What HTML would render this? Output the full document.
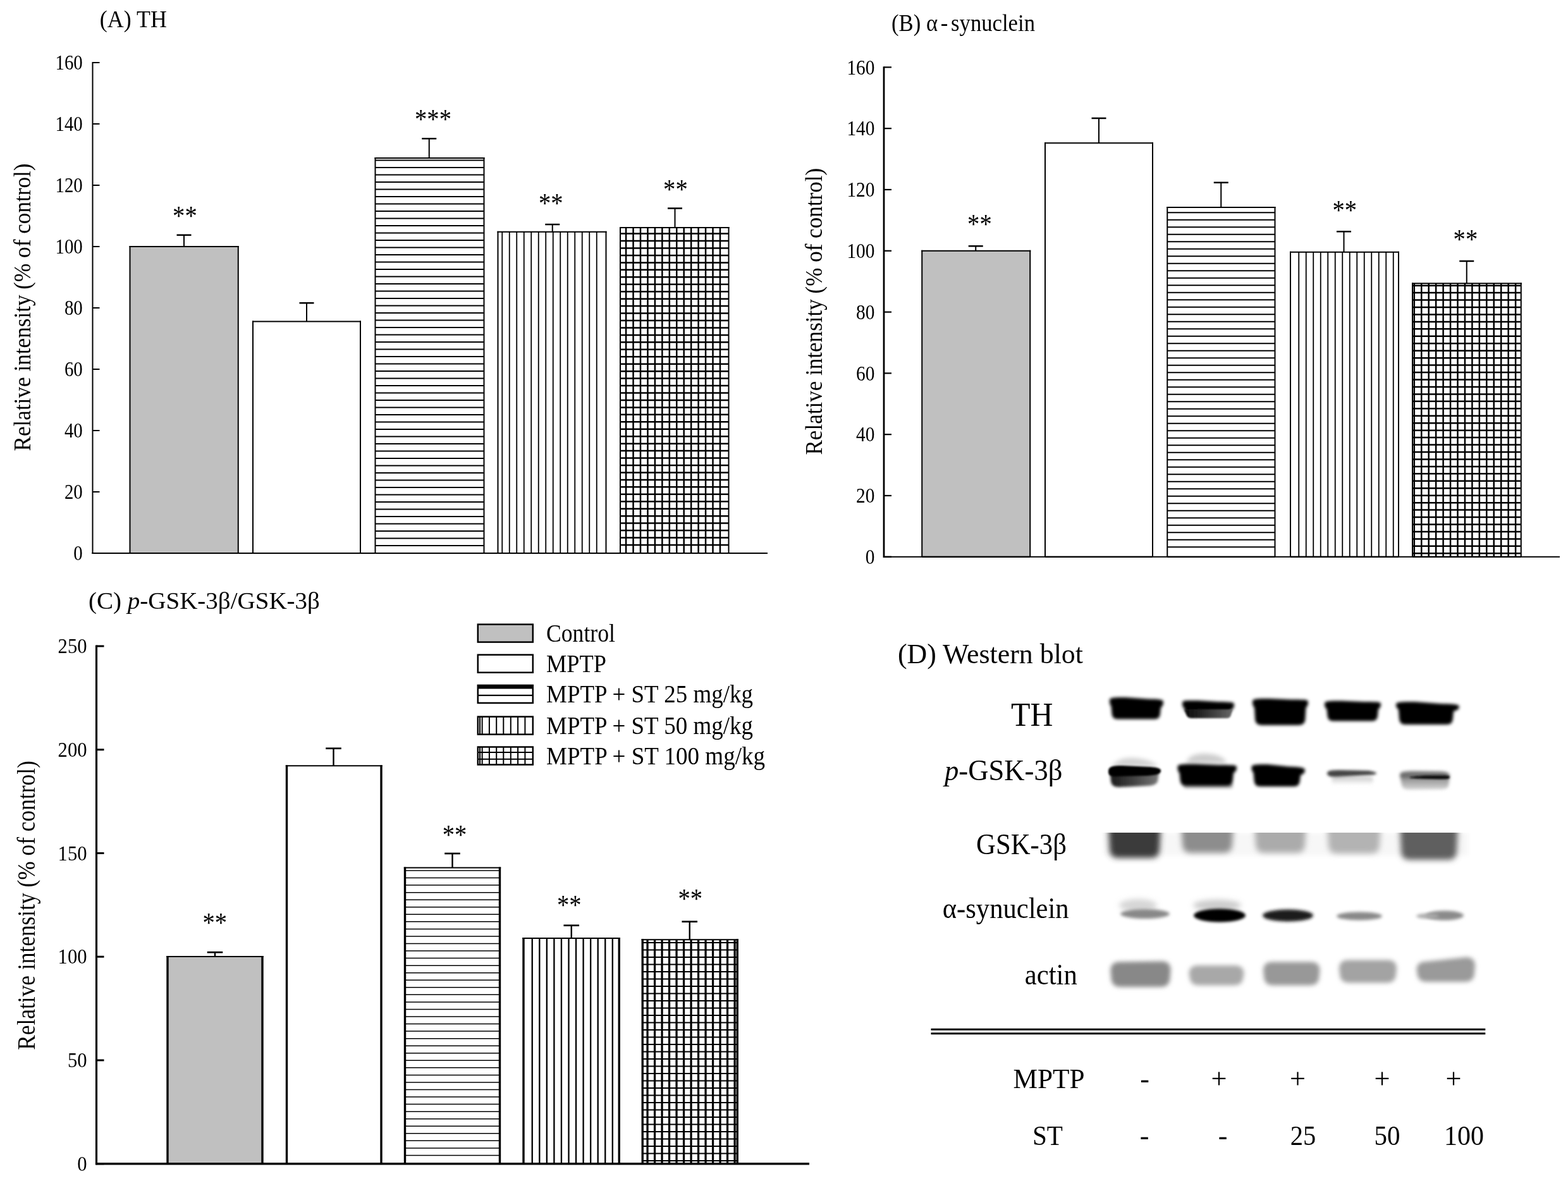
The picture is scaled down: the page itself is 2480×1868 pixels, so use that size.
<!DOCTYPE html>
<html><head><meta charset="utf-8"><title>Figure</title>
<style>html,body{margin:0;padding:0;background:#fff;}svg{display:block;}text{font-family:'Liberation Serif', 'Times New Roman', serif;fill:#000;}</style>
</head><body>
<svg width="2480" height="1868" viewBox="0 0 2480 1868">
<rect width="2480" height="1868" fill="#fff"/>
<defs><filter id="b15" x="-20%" y="-50%" width="140%" height="200%"><feGaussianBlur stdDeviation="1.5"/></filter><filter id="b16" x="-20%" y="-50%" width="140%" height="200%"><feGaussianBlur stdDeviation="1.6"/></filter><filter id="b18" x="-20%" y="-50%" width="140%" height="200%"><feGaussianBlur stdDeviation="1.8"/></filter><filter id="b20" x="-20%" y="-50%" width="140%" height="200%"><feGaussianBlur stdDeviation="2.0"/></filter><filter id="b22" x="-20%" y="-50%" width="140%" height="200%"><feGaussianBlur stdDeviation="2.2"/></filter><filter id="b25" x="-20%" y="-50%" width="140%" height="200%"><feGaussianBlur stdDeviation="2.5"/></filter><filter id="b28" x="-20%" y="-50%" width="140%" height="200%"><feGaussianBlur stdDeviation="2.8"/></filter><filter id="b30" x="-20%" y="-50%" width="140%" height="200%"><feGaussianBlur stdDeviation="3.0"/></filter><filter id="b35" x="-20%" y="-50%" width="140%" height="200%"><feGaussianBlur stdDeviation="3.5"/></filter><filter id="b45" x="-20%" y="-50%" width="140%" height="200%"><feGaussianBlur stdDeviation="4.5"/></filter><filter id="b50" x="-20%" y="-50%" width="140%" height="200%"><feGaussianBlur stdDeviation="5.0"/></filter></defs>
<text x="157.80" y="42.50" font-size="37" textLength="106.00" lengthAdjust="spacingAndGlyphs" >(A) TH</text>
<line x1="146.50" y1="98.00" x2="146.50" y2="876.00" stroke="#000" stroke-width="2"/>
<line x1="146.50" y1="875.00" x2="157.50" y2="875.00" stroke="#000" stroke-width="2"/>
<text x="130.70" y="886.20" font-size="33" text-anchor="end" textLength="14.40" lengthAdjust="spacingAndGlyphs" >0</text>
<line x1="146.50" y1="778.00" x2="157.50" y2="778.00" stroke="#000" stroke-width="2"/>
<text x="130.70" y="789.20" font-size="33" text-anchor="end" textLength="28.80" lengthAdjust="spacingAndGlyphs" >20</text>
<line x1="146.50" y1="681.00" x2="157.50" y2="681.00" stroke="#000" stroke-width="2"/>
<text x="130.70" y="692.20" font-size="33" text-anchor="end" textLength="28.80" lengthAdjust="spacingAndGlyphs" >40</text>
<line x1="146.50" y1="584.00" x2="157.50" y2="584.00" stroke="#000" stroke-width="2"/>
<text x="130.70" y="595.20" font-size="33" text-anchor="end" textLength="28.80" lengthAdjust="spacingAndGlyphs" >60</text>
<line x1="146.50" y1="487.00" x2="157.50" y2="487.00" stroke="#000" stroke-width="2"/>
<text x="130.70" y="498.20" font-size="33" text-anchor="end" textLength="28.80" lengthAdjust="spacingAndGlyphs" >80</text>
<line x1="146.50" y1="390.00" x2="157.50" y2="390.00" stroke="#000" stroke-width="2"/>
<text x="130.70" y="401.20" font-size="33" text-anchor="end" textLength="43.20" lengthAdjust="spacingAndGlyphs" >100</text>
<line x1="146.50" y1="293.00" x2="157.50" y2="293.00" stroke="#000" stroke-width="2"/>
<text x="130.70" y="304.20" font-size="33" text-anchor="end" textLength="43.20" lengthAdjust="spacingAndGlyphs" >120</text>
<line x1="146.50" y1="196.00" x2="157.50" y2="196.00" stroke="#000" stroke-width="2"/>
<text x="130.70" y="207.20" font-size="33" text-anchor="end" textLength="43.20" lengthAdjust="spacingAndGlyphs" >140</text>
<line x1="146.50" y1="99.00" x2="157.50" y2="99.00" stroke="#000" stroke-width="2"/>
<text x="130.70" y="110.20" font-size="33" text-anchor="end" textLength="43.20" lengthAdjust="spacingAndGlyphs" >160</text>
<line x1="145.50" y1="875.00" x2="1214.00" y2="875.00" stroke="#000" stroke-width="2"/>
<text x="47.50" y="486.00" font-size="38" text-anchor="middle" textLength="455.00" lengthAdjust="spacingAndGlyphs" transform="rotate(-90 47.50 486.00)" >Relative intensity (% of control)</text>
<line x1="291.00" y1="390.00" x2="291.00" y2="371.75" stroke="#000" stroke-width="2.0"/>
<line x1="279.50" y1="371.75" x2="302.50" y2="371.75" stroke="#000" stroke-width="2.5"/>
<rect x="205.50" y="390.00" width="171.25" height="485.00" fill="#c0c0c0"/>
<line x1="204.50" y1="390.00" x2="377.75" y2="390.00" stroke="#000" stroke-width="2.0"/>
<line x1="205.50" y1="389.00" x2="205.50" y2="875.00" stroke="#000" stroke-width="2.0"/>
<line x1="376.75" y1="389.00" x2="376.75" y2="875.00" stroke="#000" stroke-width="2.0"/>
<line x1="205.50" y1="875.00" x2="376.75" y2="875.00" stroke="#000" stroke-width="2.0"/>
<line x1="485.00" y1="508.50" x2="485.00" y2="479.25" stroke="#000" stroke-width="2.0"/>
<line x1="473.50" y1="479.25" x2="496.50" y2="479.25" stroke="#000" stroke-width="2.5"/>
<rect x="400.00" y="508.50" width="170.00" height="366.50" fill="#fff"/>
<line x1="399.00" y1="508.50" x2="571.00" y2="508.50" stroke="#000" stroke-width="2.0"/>
<line x1="400.00" y1="507.50" x2="400.00" y2="875.00" stroke="#000" stroke-width="2.0"/>
<line x1="570.00" y1="507.50" x2="570.00" y2="875.00" stroke="#000" stroke-width="2.0"/>
<line x1="400.00" y1="875.00" x2="570.00" y2="875.00" stroke="#000" stroke-width="2.0"/>
<line x1="678.75" y1="250.00" x2="678.75" y2="219.25" stroke="#000" stroke-width="2.0"/>
<line x1="667.25" y1="219.25" x2="690.25" y2="219.25" stroke="#000" stroke-width="2.5"/>
<rect x="593.50" y="250.00" width="172.00" height="625.00" fill="#fff"/>
<line x1="593.50" y1="253.50" x2="765.50" y2="253.50" stroke="#000" stroke-width="1.8"/>
<line x1="593.50" y1="265.00" x2="765.50" y2="265.00" stroke="#000" stroke-width="1.8"/>
<line x1="593.50" y1="276.50" x2="765.50" y2="276.50" stroke="#000" stroke-width="1.8"/>
<line x1="593.50" y1="288.00" x2="765.50" y2="288.00" stroke="#000" stroke-width="1.8"/>
<line x1="593.50" y1="299.50" x2="765.50" y2="299.50" stroke="#000" stroke-width="1.8"/>
<line x1="593.50" y1="311.00" x2="765.50" y2="311.00" stroke="#000" stroke-width="1.8"/>
<line x1="593.50" y1="322.50" x2="765.50" y2="322.50" stroke="#000" stroke-width="1.8"/>
<line x1="593.50" y1="334.00" x2="765.50" y2="334.00" stroke="#000" stroke-width="1.8"/>
<line x1="593.50" y1="345.50" x2="765.50" y2="345.50" stroke="#000" stroke-width="1.8"/>
<line x1="593.50" y1="357.00" x2="765.50" y2="357.00" stroke="#000" stroke-width="1.8"/>
<line x1="593.50" y1="368.50" x2="765.50" y2="368.50" stroke="#000" stroke-width="1.8"/>
<line x1="593.50" y1="380.00" x2="765.50" y2="380.00" stroke="#000" stroke-width="1.8"/>
<line x1="593.50" y1="391.50" x2="765.50" y2="391.50" stroke="#000" stroke-width="1.8"/>
<line x1="593.50" y1="403.00" x2="765.50" y2="403.00" stroke="#000" stroke-width="1.8"/>
<line x1="593.50" y1="414.50" x2="765.50" y2="414.50" stroke="#000" stroke-width="1.8"/>
<line x1="593.50" y1="426.00" x2="765.50" y2="426.00" stroke="#000" stroke-width="1.8"/>
<line x1="593.50" y1="437.50" x2="765.50" y2="437.50" stroke="#000" stroke-width="1.8"/>
<line x1="593.50" y1="449.00" x2="765.50" y2="449.00" stroke="#000" stroke-width="1.8"/>
<line x1="593.50" y1="460.50" x2="765.50" y2="460.50" stroke="#000" stroke-width="1.8"/>
<line x1="593.50" y1="472.00" x2="765.50" y2="472.00" stroke="#000" stroke-width="1.8"/>
<line x1="593.50" y1="483.50" x2="765.50" y2="483.50" stroke="#000" stroke-width="1.8"/>
<line x1="593.50" y1="495.00" x2="765.50" y2="495.00" stroke="#000" stroke-width="1.8"/>
<line x1="593.50" y1="506.50" x2="765.50" y2="506.50" stroke="#000" stroke-width="1.8"/>
<line x1="593.50" y1="518.00" x2="765.50" y2="518.00" stroke="#000" stroke-width="1.8"/>
<line x1="593.50" y1="529.50" x2="765.50" y2="529.50" stroke="#000" stroke-width="1.8"/>
<line x1="593.50" y1="541.00" x2="765.50" y2="541.00" stroke="#000" stroke-width="1.8"/>
<line x1="593.50" y1="552.50" x2="765.50" y2="552.50" stroke="#000" stroke-width="1.8"/>
<line x1="593.50" y1="564.00" x2="765.50" y2="564.00" stroke="#000" stroke-width="1.8"/>
<line x1="593.50" y1="575.50" x2="765.50" y2="575.50" stroke="#000" stroke-width="1.8"/>
<line x1="593.50" y1="587.00" x2="765.50" y2="587.00" stroke="#000" stroke-width="1.8"/>
<line x1="593.50" y1="598.50" x2="765.50" y2="598.50" stroke="#000" stroke-width="1.8"/>
<line x1="593.50" y1="610.00" x2="765.50" y2="610.00" stroke="#000" stroke-width="1.8"/>
<line x1="593.50" y1="621.50" x2="765.50" y2="621.50" stroke="#000" stroke-width="1.8"/>
<line x1="593.50" y1="633.00" x2="765.50" y2="633.00" stroke="#000" stroke-width="1.8"/>
<line x1="593.50" y1="644.50" x2="765.50" y2="644.50" stroke="#000" stroke-width="1.8"/>
<line x1="593.50" y1="656.00" x2="765.50" y2="656.00" stroke="#000" stroke-width="1.8"/>
<line x1="593.50" y1="667.50" x2="765.50" y2="667.50" stroke="#000" stroke-width="1.8"/>
<line x1="593.50" y1="679.00" x2="765.50" y2="679.00" stroke="#000" stroke-width="1.8"/>
<line x1="593.50" y1="690.50" x2="765.50" y2="690.50" stroke="#000" stroke-width="1.8"/>
<line x1="593.50" y1="702.00" x2="765.50" y2="702.00" stroke="#000" stroke-width="1.8"/>
<line x1="593.50" y1="713.50" x2="765.50" y2="713.50" stroke="#000" stroke-width="1.8"/>
<line x1="593.50" y1="725.00" x2="765.50" y2="725.00" stroke="#000" stroke-width="1.8"/>
<line x1="593.50" y1="736.50" x2="765.50" y2="736.50" stroke="#000" stroke-width="1.8"/>
<line x1="593.50" y1="748.00" x2="765.50" y2="748.00" stroke="#000" stroke-width="1.8"/>
<line x1="593.50" y1="759.50" x2="765.50" y2="759.50" stroke="#000" stroke-width="1.8"/>
<line x1="593.50" y1="771.00" x2="765.50" y2="771.00" stroke="#000" stroke-width="1.8"/>
<line x1="593.50" y1="782.50" x2="765.50" y2="782.50" stroke="#000" stroke-width="1.8"/>
<line x1="593.50" y1="794.00" x2="765.50" y2="794.00" stroke="#000" stroke-width="1.8"/>
<line x1="593.50" y1="805.50" x2="765.50" y2="805.50" stroke="#000" stroke-width="1.8"/>
<line x1="593.50" y1="817.00" x2="765.50" y2="817.00" stroke="#000" stroke-width="1.8"/>
<line x1="593.50" y1="828.50" x2="765.50" y2="828.50" stroke="#000" stroke-width="1.8"/>
<line x1="593.50" y1="840.00" x2="765.50" y2="840.00" stroke="#000" stroke-width="1.8"/>
<line x1="593.50" y1="851.50" x2="765.50" y2="851.50" stroke="#000" stroke-width="1.8"/>
<line x1="593.50" y1="863.00" x2="765.50" y2="863.00" stroke="#000" stroke-width="1.8"/>
<line x1="592.50" y1="250.00" x2="766.50" y2="250.00" stroke="#000" stroke-width="2.0"/>
<line x1="593.50" y1="249.00" x2="593.50" y2="875.00" stroke="#000" stroke-width="2.0"/>
<line x1="765.50" y1="249.00" x2="765.50" y2="875.00" stroke="#000" stroke-width="2.0"/>
<line x1="593.50" y1="875.00" x2="765.50" y2="875.00" stroke="#000" stroke-width="2.0"/>
<line x1="873.75" y1="366.75" x2="873.75" y2="355.00" stroke="#000" stroke-width="2.0"/>
<line x1="862.25" y1="355.00" x2="885.25" y2="355.00" stroke="#000" stroke-width="2.5"/>
<rect x="787.50" y="366.75" width="171.00" height="508.25" fill="#fff"/>
<line x1="794.25" y1="366.75" x2="794.25" y2="875.00" stroke="#000" stroke-width="1.8"/>
<line x1="805.75" y1="366.75" x2="805.75" y2="875.00" stroke="#000" stroke-width="1.8"/>
<line x1="817.25" y1="366.75" x2="817.25" y2="875.00" stroke="#000" stroke-width="1.8"/>
<line x1="828.75" y1="366.75" x2="828.75" y2="875.00" stroke="#000" stroke-width="1.8"/>
<line x1="840.25" y1="366.75" x2="840.25" y2="875.00" stroke="#000" stroke-width="1.8"/>
<line x1="851.75" y1="366.75" x2="851.75" y2="875.00" stroke="#000" stroke-width="1.8"/>
<line x1="863.25" y1="366.75" x2="863.25" y2="875.00" stroke="#000" stroke-width="1.8"/>
<line x1="874.75" y1="366.75" x2="874.75" y2="875.00" stroke="#000" stroke-width="1.8"/>
<line x1="886.25" y1="366.75" x2="886.25" y2="875.00" stroke="#000" stroke-width="1.8"/>
<line x1="897.75" y1="366.75" x2="897.75" y2="875.00" stroke="#000" stroke-width="1.8"/>
<line x1="909.25" y1="366.75" x2="909.25" y2="875.00" stroke="#000" stroke-width="1.8"/>
<line x1="920.75" y1="366.75" x2="920.75" y2="875.00" stroke="#000" stroke-width="1.8"/>
<line x1="932.25" y1="366.75" x2="932.25" y2="875.00" stroke="#000" stroke-width="1.8"/>
<line x1="943.75" y1="366.75" x2="943.75" y2="875.00" stroke="#000" stroke-width="1.8"/>
<line x1="786.50" y1="366.75" x2="959.50" y2="366.75" stroke="#000" stroke-width="2.0"/>
<line x1="787.50" y1="365.75" x2="787.50" y2="875.00" stroke="#000" stroke-width="2.0"/>
<line x1="958.50" y1="365.75" x2="958.50" y2="875.00" stroke="#000" stroke-width="2.0"/>
<line x1="787.50" y1="875.00" x2="958.50" y2="875.00" stroke="#000" stroke-width="2.0"/>
<line x1="1067.50" y1="360.00" x2="1067.50" y2="329.50" stroke="#000" stroke-width="2.0"/>
<line x1="1056.00" y1="329.50" x2="1079.00" y2="329.50" stroke="#000" stroke-width="2.5"/>
<rect x="981.00" y="360.00" width="171.50" height="515.00" fill="#fff"/>
<line x1="981.00" y1="369.60" x2="1152.50" y2="369.60" stroke="#000" stroke-width="2.5"/>
<line x1="981.00" y1="381.05" x2="1152.50" y2="381.05" stroke="#000" stroke-width="2.5"/>
<line x1="981.00" y1="392.50" x2="1152.50" y2="392.50" stroke="#000" stroke-width="2.5"/>
<line x1="981.00" y1="403.95" x2="1152.50" y2="403.95" stroke="#000" stroke-width="2.5"/>
<line x1="981.00" y1="415.40" x2="1152.50" y2="415.40" stroke="#000" stroke-width="2.5"/>
<line x1="981.00" y1="426.85" x2="1152.50" y2="426.85" stroke="#000" stroke-width="2.5"/>
<line x1="981.00" y1="438.30" x2="1152.50" y2="438.30" stroke="#000" stroke-width="2.5"/>
<line x1="981.00" y1="449.75" x2="1152.50" y2="449.75" stroke="#000" stroke-width="2.5"/>
<line x1="981.00" y1="461.20" x2="1152.50" y2="461.20" stroke="#000" stroke-width="2.5"/>
<line x1="981.00" y1="472.65" x2="1152.50" y2="472.65" stroke="#000" stroke-width="2.5"/>
<line x1="981.00" y1="484.10" x2="1152.50" y2="484.10" stroke="#000" stroke-width="2.5"/>
<line x1="981.00" y1="495.55" x2="1152.50" y2="495.55" stroke="#000" stroke-width="2.5"/>
<line x1="981.00" y1="507.00" x2="1152.50" y2="507.00" stroke="#000" stroke-width="2.5"/>
<line x1="981.00" y1="518.45" x2="1152.50" y2="518.45" stroke="#000" stroke-width="2.5"/>
<line x1="981.00" y1="529.90" x2="1152.50" y2="529.90" stroke="#000" stroke-width="2.5"/>
<line x1="981.00" y1="541.35" x2="1152.50" y2="541.35" stroke="#000" stroke-width="2.5"/>
<line x1="981.00" y1="552.80" x2="1152.50" y2="552.80" stroke="#000" stroke-width="2.5"/>
<line x1="981.00" y1="564.25" x2="1152.50" y2="564.25" stroke="#000" stroke-width="2.5"/>
<line x1="981.00" y1="575.70" x2="1152.50" y2="575.70" stroke="#000" stroke-width="2.5"/>
<line x1="981.00" y1="587.15" x2="1152.50" y2="587.15" stroke="#000" stroke-width="2.5"/>
<line x1="981.00" y1="598.60" x2="1152.50" y2="598.60" stroke="#000" stroke-width="2.5"/>
<line x1="981.00" y1="610.05" x2="1152.50" y2="610.05" stroke="#000" stroke-width="2.5"/>
<line x1="981.00" y1="621.50" x2="1152.50" y2="621.50" stroke="#000" stroke-width="2.5"/>
<line x1="981.00" y1="632.95" x2="1152.50" y2="632.95" stroke="#000" stroke-width="2.5"/>
<line x1="981.00" y1="644.40" x2="1152.50" y2="644.40" stroke="#000" stroke-width="2.5"/>
<line x1="981.00" y1="655.85" x2="1152.50" y2="655.85" stroke="#000" stroke-width="2.5"/>
<line x1="981.00" y1="667.30" x2="1152.50" y2="667.30" stroke="#000" stroke-width="2.5"/>
<line x1="981.00" y1="678.75" x2="1152.50" y2="678.75" stroke="#000" stroke-width="2.5"/>
<line x1="981.00" y1="690.20" x2="1152.50" y2="690.20" stroke="#000" stroke-width="2.5"/>
<line x1="981.00" y1="701.65" x2="1152.50" y2="701.65" stroke="#000" stroke-width="2.5"/>
<line x1="981.00" y1="713.10" x2="1152.50" y2="713.10" stroke="#000" stroke-width="2.5"/>
<line x1="981.00" y1="724.55" x2="1152.50" y2="724.55" stroke="#000" stroke-width="2.5"/>
<line x1="981.00" y1="736.00" x2="1152.50" y2="736.00" stroke="#000" stroke-width="2.5"/>
<line x1="981.00" y1="747.45" x2="1152.50" y2="747.45" stroke="#000" stroke-width="2.5"/>
<line x1="981.00" y1="758.90" x2="1152.50" y2="758.90" stroke="#000" stroke-width="2.5"/>
<line x1="981.00" y1="770.35" x2="1152.50" y2="770.35" stroke="#000" stroke-width="2.5"/>
<line x1="981.00" y1="781.80" x2="1152.50" y2="781.80" stroke="#000" stroke-width="2.5"/>
<line x1="981.00" y1="793.25" x2="1152.50" y2="793.25" stroke="#000" stroke-width="2.5"/>
<line x1="981.00" y1="804.70" x2="1152.50" y2="804.70" stroke="#000" stroke-width="2.5"/>
<line x1="981.00" y1="816.15" x2="1152.50" y2="816.15" stroke="#000" stroke-width="2.5"/>
<line x1="981.00" y1="827.60" x2="1152.50" y2="827.60" stroke="#000" stroke-width="2.5"/>
<line x1="981.00" y1="839.05" x2="1152.50" y2="839.05" stroke="#000" stroke-width="2.5"/>
<line x1="981.00" y1="850.50" x2="1152.50" y2="850.50" stroke="#000" stroke-width="2.5"/>
<line x1="981.00" y1="861.95" x2="1152.50" y2="861.95" stroke="#000" stroke-width="2.5"/>
<line x1="990.10" y1="360.00" x2="990.10" y2="875.00" stroke="#000" stroke-width="2.5"/>
<line x1="1001.55" y1="360.00" x2="1001.55" y2="875.00" stroke="#000" stroke-width="2.5"/>
<line x1="1013.00" y1="360.00" x2="1013.00" y2="875.00" stroke="#000" stroke-width="2.5"/>
<line x1="1024.45" y1="360.00" x2="1024.45" y2="875.00" stroke="#000" stroke-width="2.5"/>
<line x1="1035.90" y1="360.00" x2="1035.90" y2="875.00" stroke="#000" stroke-width="2.5"/>
<line x1="1047.35" y1="360.00" x2="1047.35" y2="875.00" stroke="#000" stroke-width="2.5"/>
<line x1="1058.80" y1="360.00" x2="1058.80" y2="875.00" stroke="#000" stroke-width="2.5"/>
<line x1="1070.25" y1="360.00" x2="1070.25" y2="875.00" stroke="#000" stroke-width="2.5"/>
<line x1="1081.70" y1="360.00" x2="1081.70" y2="875.00" stroke="#000" stroke-width="2.5"/>
<line x1="1093.15" y1="360.00" x2="1093.15" y2="875.00" stroke="#000" stroke-width="2.5"/>
<line x1="1104.60" y1="360.00" x2="1104.60" y2="875.00" stroke="#000" stroke-width="2.5"/>
<line x1="1116.05" y1="360.00" x2="1116.05" y2="875.00" stroke="#000" stroke-width="2.5"/>
<line x1="1127.50" y1="360.00" x2="1127.50" y2="875.00" stroke="#000" stroke-width="2.5"/>
<line x1="1138.95" y1="360.00" x2="1138.95" y2="875.00" stroke="#000" stroke-width="2.5"/>
<line x1="980.00" y1="360.00" x2="1153.50" y2="360.00" stroke="#000" stroke-width="2.0"/>
<line x1="981.00" y1="359.00" x2="981.00" y2="875.00" stroke="#000" stroke-width="2.0"/>
<line x1="1152.50" y1="359.00" x2="1152.50" y2="875.00" stroke="#000" stroke-width="2.0"/>
<line x1="981.00" y1="875.00" x2="1152.50" y2="875.00" stroke="#000" stroke-width="2.0"/>
<line x1="145.50" y1="875.00" x2="1214.00" y2="875.00" stroke="#000" stroke-width="2"/>
<text x="292.40" y="356.44" font-size="44" text-anchor="middle" textLength="38.60" lengthAdjust="spacingAndGlyphs" >**</text>
<text x="685.00" y="203.24" font-size="44" text-anchor="middle" textLength="57.90" lengthAdjust="spacingAndGlyphs" >***</text>
<text x="871.20" y="336.44" font-size="44" text-anchor="middle" textLength="38.60" lengthAdjust="spacingAndGlyphs" >**</text>
<text x="1068.40" y="314.14" font-size="44" text-anchor="middle" textLength="38.60" lengthAdjust="spacingAndGlyphs" >**</text>
<text x="1410" y="48.5" font-size="37" textLength="227" lengthAdjust="spacingAndGlyphs">(B) α<tspan dx="5">-</tspan><tspan dx="5">synuclein</tspan></text>
<line x1="1398.00" y1="105.15" x2="1398.00" y2="881.95" stroke="#000" stroke-width="2.8"/>
<line x1="1398.00" y1="880.75" x2="1410.00" y2="880.75" stroke="#000" stroke-width="2.2"/>
<text x="1383.50" y="891.95" font-size="33" text-anchor="end" textLength="14.70" lengthAdjust="spacingAndGlyphs" >0</text>
<line x1="1398.00" y1="783.95" x2="1410.00" y2="783.95" stroke="#000" stroke-width="2.2"/>
<text x="1383.50" y="795.15" font-size="33" text-anchor="end" textLength="29.40" lengthAdjust="spacingAndGlyphs" >20</text>
<line x1="1398.00" y1="687.15" x2="1410.00" y2="687.15" stroke="#000" stroke-width="2.2"/>
<text x="1383.50" y="698.35" font-size="33" text-anchor="end" textLength="29.40" lengthAdjust="spacingAndGlyphs" >40</text>
<line x1="1398.00" y1="590.35" x2="1410.00" y2="590.35" stroke="#000" stroke-width="2.2"/>
<text x="1383.50" y="601.55" font-size="33" text-anchor="end" textLength="29.40" lengthAdjust="spacingAndGlyphs" >60</text>
<line x1="1398.00" y1="493.55" x2="1410.00" y2="493.55" stroke="#000" stroke-width="2.2"/>
<text x="1383.50" y="504.75" font-size="33" text-anchor="end" textLength="29.40" lengthAdjust="spacingAndGlyphs" >80</text>
<line x1="1398.00" y1="396.75" x2="1410.00" y2="396.75" stroke="#000" stroke-width="2.2"/>
<text x="1383.50" y="407.95" font-size="33" text-anchor="end" textLength="44.10" lengthAdjust="spacingAndGlyphs" >100</text>
<line x1="1398.00" y1="299.95" x2="1410.00" y2="299.95" stroke="#000" stroke-width="2.2"/>
<text x="1383.50" y="311.15" font-size="33" text-anchor="end" textLength="44.10" lengthAdjust="spacingAndGlyphs" >120</text>
<line x1="1398.00" y1="203.15" x2="1410.00" y2="203.15" stroke="#000" stroke-width="2.2"/>
<text x="1383.50" y="214.35" font-size="33" text-anchor="end" textLength="44.10" lengthAdjust="spacingAndGlyphs" >140</text>
<line x1="1398.00" y1="106.35" x2="1410.00" y2="106.35" stroke="#000" stroke-width="2.2"/>
<text x="1383.50" y="117.55" font-size="33" text-anchor="end" textLength="44.10" lengthAdjust="spacingAndGlyphs" >160</text>
<text x="1300.50" y="492.70" font-size="38" text-anchor="middle" textLength="453.60" lengthAdjust="spacingAndGlyphs" transform="rotate(-90 1300.50 492.70)" >Relative intensity (% of control)</text>
<line x1="1543.25" y1="396.75" x2="1543.25" y2="389.25" stroke="#000" stroke-width="2.0"/>
<line x1="1531.75" y1="389.25" x2="1554.75" y2="389.25" stroke="#000" stroke-width="2.5"/>
<rect x="1458.25" y="396.75" width="171.00" height="484.00" fill="#c0c0c0"/>
<line x1="1457.25" y1="396.75" x2="1630.25" y2="396.75" stroke="#000" stroke-width="2.0"/>
<line x1="1458.25" y1="395.75" x2="1458.25" y2="880.75" stroke="#000" stroke-width="2.0"/>
<line x1="1629.25" y1="395.75" x2="1629.25" y2="880.75" stroke="#000" stroke-width="2.0"/>
<line x1="1458.25" y1="880.75" x2="1629.25" y2="880.75" stroke="#000" stroke-width="2.0"/>
<line x1="1738.00" y1="226.25" x2="1738.00" y2="187.00" stroke="#000" stroke-width="2.0"/>
<line x1="1726.50" y1="187.00" x2="1749.50" y2="187.00" stroke="#000" stroke-width="2.5"/>
<rect x="1653.00" y="226.25" width="170.00" height="654.50" fill="#fff"/>
<line x1="1652.00" y1="226.25" x2="1824.00" y2="226.25" stroke="#000" stroke-width="2.0"/>
<line x1="1653.00" y1="225.25" x2="1653.00" y2="880.75" stroke="#000" stroke-width="2.0"/>
<line x1="1823.00" y1="225.25" x2="1823.00" y2="880.75" stroke="#000" stroke-width="2.0"/>
<line x1="1653.00" y1="880.75" x2="1823.00" y2="880.75" stroke="#000" stroke-width="2.0"/>
<line x1="1931.25" y1="328.00" x2="1931.25" y2="288.75" stroke="#000" stroke-width="2.0"/>
<line x1="1919.75" y1="288.75" x2="1942.75" y2="288.75" stroke="#000" stroke-width="2.5"/>
<rect x="1846.25" y="328.00" width="170.25" height="552.75" fill="#fff"/>
<line x1="1846.25" y1="336.25" x2="2016.50" y2="336.25" stroke="#000" stroke-width="1.8"/>
<line x1="1846.25" y1="347.75" x2="2016.50" y2="347.75" stroke="#000" stroke-width="1.8"/>
<line x1="1846.25" y1="359.25" x2="2016.50" y2="359.25" stroke="#000" stroke-width="1.8"/>
<line x1="1846.25" y1="370.75" x2="2016.50" y2="370.75" stroke="#000" stroke-width="1.8"/>
<line x1="1846.25" y1="382.25" x2="2016.50" y2="382.25" stroke="#000" stroke-width="1.8"/>
<line x1="1846.25" y1="393.75" x2="2016.50" y2="393.75" stroke="#000" stroke-width="1.8"/>
<line x1="1846.25" y1="405.25" x2="2016.50" y2="405.25" stroke="#000" stroke-width="1.8"/>
<line x1="1846.25" y1="416.75" x2="2016.50" y2="416.75" stroke="#000" stroke-width="1.8"/>
<line x1="1846.25" y1="428.25" x2="2016.50" y2="428.25" stroke="#000" stroke-width="1.8"/>
<line x1="1846.25" y1="439.75" x2="2016.50" y2="439.75" stroke="#000" stroke-width="1.8"/>
<line x1="1846.25" y1="451.25" x2="2016.50" y2="451.25" stroke="#000" stroke-width="1.8"/>
<line x1="1846.25" y1="462.75" x2="2016.50" y2="462.75" stroke="#000" stroke-width="1.8"/>
<line x1="1846.25" y1="474.25" x2="2016.50" y2="474.25" stroke="#000" stroke-width="1.8"/>
<line x1="1846.25" y1="485.75" x2="2016.50" y2="485.75" stroke="#000" stroke-width="1.8"/>
<line x1="1846.25" y1="497.25" x2="2016.50" y2="497.25" stroke="#000" stroke-width="1.8"/>
<line x1="1846.25" y1="508.75" x2="2016.50" y2="508.75" stroke="#000" stroke-width="1.8"/>
<line x1="1846.25" y1="520.25" x2="2016.50" y2="520.25" stroke="#000" stroke-width="1.8"/>
<line x1="1846.25" y1="531.75" x2="2016.50" y2="531.75" stroke="#000" stroke-width="1.8"/>
<line x1="1846.25" y1="543.25" x2="2016.50" y2="543.25" stroke="#000" stroke-width="1.8"/>
<line x1="1846.25" y1="554.75" x2="2016.50" y2="554.75" stroke="#000" stroke-width="1.8"/>
<line x1="1846.25" y1="566.25" x2="2016.50" y2="566.25" stroke="#000" stroke-width="1.8"/>
<line x1="1846.25" y1="577.75" x2="2016.50" y2="577.75" stroke="#000" stroke-width="1.8"/>
<line x1="1846.25" y1="589.25" x2="2016.50" y2="589.25" stroke="#000" stroke-width="1.8"/>
<line x1="1846.25" y1="600.75" x2="2016.50" y2="600.75" stroke="#000" stroke-width="1.8"/>
<line x1="1846.25" y1="612.25" x2="2016.50" y2="612.25" stroke="#000" stroke-width="1.8"/>
<line x1="1846.25" y1="623.75" x2="2016.50" y2="623.75" stroke="#000" stroke-width="1.8"/>
<line x1="1846.25" y1="635.25" x2="2016.50" y2="635.25" stroke="#000" stroke-width="1.8"/>
<line x1="1846.25" y1="646.75" x2="2016.50" y2="646.75" stroke="#000" stroke-width="1.8"/>
<line x1="1846.25" y1="658.25" x2="2016.50" y2="658.25" stroke="#000" stroke-width="1.8"/>
<line x1="1846.25" y1="669.75" x2="2016.50" y2="669.75" stroke="#000" stroke-width="1.8"/>
<line x1="1846.25" y1="681.25" x2="2016.50" y2="681.25" stroke="#000" stroke-width="1.8"/>
<line x1="1846.25" y1="692.75" x2="2016.50" y2="692.75" stroke="#000" stroke-width="1.8"/>
<line x1="1846.25" y1="704.25" x2="2016.50" y2="704.25" stroke="#000" stroke-width="1.8"/>
<line x1="1846.25" y1="715.75" x2="2016.50" y2="715.75" stroke="#000" stroke-width="1.8"/>
<line x1="1846.25" y1="727.25" x2="2016.50" y2="727.25" stroke="#000" stroke-width="1.8"/>
<line x1="1846.25" y1="738.75" x2="2016.50" y2="738.75" stroke="#000" stroke-width="1.8"/>
<line x1="1846.25" y1="750.25" x2="2016.50" y2="750.25" stroke="#000" stroke-width="1.8"/>
<line x1="1846.25" y1="761.75" x2="2016.50" y2="761.75" stroke="#000" stroke-width="1.8"/>
<line x1="1846.25" y1="773.25" x2="2016.50" y2="773.25" stroke="#000" stroke-width="1.8"/>
<line x1="1846.25" y1="784.75" x2="2016.50" y2="784.75" stroke="#000" stroke-width="1.8"/>
<line x1="1846.25" y1="796.25" x2="2016.50" y2="796.25" stroke="#000" stroke-width="1.8"/>
<line x1="1846.25" y1="807.75" x2="2016.50" y2="807.75" stroke="#000" stroke-width="1.8"/>
<line x1="1846.25" y1="819.25" x2="2016.50" y2="819.25" stroke="#000" stroke-width="1.8"/>
<line x1="1846.25" y1="830.75" x2="2016.50" y2="830.75" stroke="#000" stroke-width="1.8"/>
<line x1="1846.25" y1="842.25" x2="2016.50" y2="842.25" stroke="#000" stroke-width="1.8"/>
<line x1="1846.25" y1="853.75" x2="2016.50" y2="853.75" stroke="#000" stroke-width="1.8"/>
<line x1="1846.25" y1="865.25" x2="2016.50" y2="865.25" stroke="#000" stroke-width="1.8"/>
<line x1="1845.25" y1="328.00" x2="2017.50" y2="328.00" stroke="#000" stroke-width="2.0"/>
<line x1="1846.25" y1="327.00" x2="1846.25" y2="880.75" stroke="#000" stroke-width="2.0"/>
<line x1="2016.50" y1="327.00" x2="2016.50" y2="880.75" stroke="#000" stroke-width="2.0"/>
<line x1="1846.25" y1="880.75" x2="2016.50" y2="880.75" stroke="#000" stroke-width="2.0"/>
<line x1="2125.50" y1="398.75" x2="2125.50" y2="366.25" stroke="#000" stroke-width="2.0"/>
<line x1="2114.00" y1="366.25" x2="2137.00" y2="366.25" stroke="#000" stroke-width="2.5"/>
<rect x="2041.00" y="398.75" width="171.00" height="482.00" fill="#fff"/>
<line x1="2054.25" y1="398.75" x2="2054.25" y2="880.75" stroke="#000" stroke-width="1.8"/>
<line x1="2065.75" y1="398.75" x2="2065.75" y2="880.75" stroke="#000" stroke-width="1.8"/>
<line x1="2077.25" y1="398.75" x2="2077.25" y2="880.75" stroke="#000" stroke-width="1.8"/>
<line x1="2088.75" y1="398.75" x2="2088.75" y2="880.75" stroke="#000" stroke-width="1.8"/>
<line x1="2100.25" y1="398.75" x2="2100.25" y2="880.75" stroke="#000" stroke-width="1.8"/>
<line x1="2111.75" y1="398.75" x2="2111.75" y2="880.75" stroke="#000" stroke-width="1.8"/>
<line x1="2123.25" y1="398.75" x2="2123.25" y2="880.75" stroke="#000" stroke-width="1.8"/>
<line x1="2134.75" y1="398.75" x2="2134.75" y2="880.75" stroke="#000" stroke-width="1.8"/>
<line x1="2146.25" y1="398.75" x2="2146.25" y2="880.75" stroke="#000" stroke-width="1.8"/>
<line x1="2157.75" y1="398.75" x2="2157.75" y2="880.75" stroke="#000" stroke-width="1.8"/>
<line x1="2169.25" y1="398.75" x2="2169.25" y2="880.75" stroke="#000" stroke-width="1.8"/>
<line x1="2180.75" y1="398.75" x2="2180.75" y2="880.75" stroke="#000" stroke-width="1.8"/>
<line x1="2192.25" y1="398.75" x2="2192.25" y2="880.75" stroke="#000" stroke-width="1.8"/>
<line x1="2203.75" y1="398.75" x2="2203.75" y2="880.75" stroke="#000" stroke-width="1.8"/>
<line x1="2040.00" y1="398.75" x2="2213.00" y2="398.75" stroke="#000" stroke-width="2.0"/>
<line x1="2041.00" y1="397.75" x2="2041.00" y2="880.75" stroke="#000" stroke-width="2.0"/>
<line x1="2212.00" y1="397.75" x2="2212.00" y2="880.75" stroke="#000" stroke-width="2.0"/>
<line x1="2041.00" y1="880.75" x2="2212.00" y2="880.75" stroke="#000" stroke-width="2.0"/>
<line x1="2319.75" y1="448.25" x2="2319.75" y2="413.00" stroke="#000" stroke-width="2.0"/>
<line x1="2308.25" y1="413.00" x2="2331.25" y2="413.00" stroke="#000" stroke-width="2.5"/>
<rect x="2234.00" y="448.25" width="171.75" height="432.50" fill="#fff"/>
<line x1="2234.00" y1="451.65" x2="2405.75" y2="451.65" stroke="#000" stroke-width="2.5"/>
<line x1="2234.00" y1="463.10" x2="2405.75" y2="463.10" stroke="#000" stroke-width="2.5"/>
<line x1="2234.00" y1="474.55" x2="2405.75" y2="474.55" stroke="#000" stroke-width="2.5"/>
<line x1="2234.00" y1="486.00" x2="2405.75" y2="486.00" stroke="#000" stroke-width="2.5"/>
<line x1="2234.00" y1="497.45" x2="2405.75" y2="497.45" stroke="#000" stroke-width="2.5"/>
<line x1="2234.00" y1="508.90" x2="2405.75" y2="508.90" stroke="#000" stroke-width="2.5"/>
<line x1="2234.00" y1="520.35" x2="2405.75" y2="520.35" stroke="#000" stroke-width="2.5"/>
<line x1="2234.00" y1="531.80" x2="2405.75" y2="531.80" stroke="#000" stroke-width="2.5"/>
<line x1="2234.00" y1="543.25" x2="2405.75" y2="543.25" stroke="#000" stroke-width="2.5"/>
<line x1="2234.00" y1="554.70" x2="2405.75" y2="554.70" stroke="#000" stroke-width="2.5"/>
<line x1="2234.00" y1="566.15" x2="2405.75" y2="566.15" stroke="#000" stroke-width="2.5"/>
<line x1="2234.00" y1="577.60" x2="2405.75" y2="577.60" stroke="#000" stroke-width="2.5"/>
<line x1="2234.00" y1="589.05" x2="2405.75" y2="589.05" stroke="#000" stroke-width="2.5"/>
<line x1="2234.00" y1="600.50" x2="2405.75" y2="600.50" stroke="#000" stroke-width="2.5"/>
<line x1="2234.00" y1="611.95" x2="2405.75" y2="611.95" stroke="#000" stroke-width="2.5"/>
<line x1="2234.00" y1="623.40" x2="2405.75" y2="623.40" stroke="#000" stroke-width="2.5"/>
<line x1="2234.00" y1="634.85" x2="2405.75" y2="634.85" stroke="#000" stroke-width="2.5"/>
<line x1="2234.00" y1="646.30" x2="2405.75" y2="646.30" stroke="#000" stroke-width="2.5"/>
<line x1="2234.00" y1="657.75" x2="2405.75" y2="657.75" stroke="#000" stroke-width="2.5"/>
<line x1="2234.00" y1="669.20" x2="2405.75" y2="669.20" stroke="#000" stroke-width="2.5"/>
<line x1="2234.00" y1="680.65" x2="2405.75" y2="680.65" stroke="#000" stroke-width="2.5"/>
<line x1="2234.00" y1="692.10" x2="2405.75" y2="692.10" stroke="#000" stroke-width="2.5"/>
<line x1="2234.00" y1="703.55" x2="2405.75" y2="703.55" stroke="#000" stroke-width="2.5"/>
<line x1="2234.00" y1="715.00" x2="2405.75" y2="715.00" stroke="#000" stroke-width="2.5"/>
<line x1="2234.00" y1="726.45" x2="2405.75" y2="726.45" stroke="#000" stroke-width="2.5"/>
<line x1="2234.00" y1="737.90" x2="2405.75" y2="737.90" stroke="#000" stroke-width="2.5"/>
<line x1="2234.00" y1="749.35" x2="2405.75" y2="749.35" stroke="#000" stroke-width="2.5"/>
<line x1="2234.00" y1="760.80" x2="2405.75" y2="760.80" stroke="#000" stroke-width="2.5"/>
<line x1="2234.00" y1="772.25" x2="2405.75" y2="772.25" stroke="#000" stroke-width="2.5"/>
<line x1="2234.00" y1="783.70" x2="2405.75" y2="783.70" stroke="#000" stroke-width="2.5"/>
<line x1="2234.00" y1="795.15" x2="2405.75" y2="795.15" stroke="#000" stroke-width="2.5"/>
<line x1="2234.00" y1="806.60" x2="2405.75" y2="806.60" stroke="#000" stroke-width="2.5"/>
<line x1="2234.00" y1="818.05" x2="2405.75" y2="818.05" stroke="#000" stroke-width="2.5"/>
<line x1="2234.00" y1="829.50" x2="2405.75" y2="829.50" stroke="#000" stroke-width="2.5"/>
<line x1="2234.00" y1="840.95" x2="2405.75" y2="840.95" stroke="#000" stroke-width="2.5"/>
<line x1="2234.00" y1="852.40" x2="2405.75" y2="852.40" stroke="#000" stroke-width="2.5"/>
<line x1="2234.00" y1="863.85" x2="2405.75" y2="863.85" stroke="#000" stroke-width="2.5"/>
<line x1="2234.00" y1="875.30" x2="2405.75" y2="875.30" stroke="#000" stroke-width="2.5"/>
<line x1="2236.80" y1="448.25" x2="2236.80" y2="880.75" stroke="#000" stroke-width="2.5"/>
<line x1="2248.25" y1="448.25" x2="2248.25" y2="880.75" stroke="#000" stroke-width="2.5"/>
<line x1="2259.70" y1="448.25" x2="2259.70" y2="880.75" stroke="#000" stroke-width="2.5"/>
<line x1="2271.15" y1="448.25" x2="2271.15" y2="880.75" stroke="#000" stroke-width="2.5"/>
<line x1="2282.60" y1="448.25" x2="2282.60" y2="880.75" stroke="#000" stroke-width="2.5"/>
<line x1="2294.05" y1="448.25" x2="2294.05" y2="880.75" stroke="#000" stroke-width="2.5"/>
<line x1="2305.50" y1="448.25" x2="2305.50" y2="880.75" stroke="#000" stroke-width="2.5"/>
<line x1="2316.95" y1="448.25" x2="2316.95" y2="880.75" stroke="#000" stroke-width="2.5"/>
<line x1="2328.40" y1="448.25" x2="2328.40" y2="880.75" stroke="#000" stroke-width="2.5"/>
<line x1="2339.85" y1="448.25" x2="2339.85" y2="880.75" stroke="#000" stroke-width="2.5"/>
<line x1="2351.30" y1="448.25" x2="2351.30" y2="880.75" stroke="#000" stroke-width="2.5"/>
<line x1="2362.75" y1="448.25" x2="2362.75" y2="880.75" stroke="#000" stroke-width="2.5"/>
<line x1="2374.20" y1="448.25" x2="2374.20" y2="880.75" stroke="#000" stroke-width="2.5"/>
<line x1="2385.65" y1="448.25" x2="2385.65" y2="880.75" stroke="#000" stroke-width="2.5"/>
<line x1="2397.10" y1="448.25" x2="2397.10" y2="880.75" stroke="#000" stroke-width="2.5"/>
<line x1="2233.00" y1="448.25" x2="2406.75" y2="448.25" stroke="#000" stroke-width="2.0"/>
<line x1="2234.00" y1="447.25" x2="2234.00" y2="880.75" stroke="#000" stroke-width="2.0"/>
<line x1="2405.75" y1="447.25" x2="2405.75" y2="880.75" stroke="#000" stroke-width="2.0"/>
<line x1="2234.00" y1="880.75" x2="2405.75" y2="880.75" stroke="#000" stroke-width="2.0"/>
<line x1="1397.00" y1="880.75" x2="2467.00" y2="880.75" stroke="#000" stroke-width="2"/>
<text x="1549.40" y="368.94" font-size="44" text-anchor="middle" textLength="38.60" lengthAdjust="spacingAndGlyphs" >**</text>
<text x="2126.80" y="347.24" font-size="44" text-anchor="middle" textLength="38.60" lengthAdjust="spacingAndGlyphs" >**</text>
<text x="2317.90" y="393.04" font-size="44" text-anchor="middle" textLength="38.60" lengthAdjust="spacingAndGlyphs" >**</text>
<text x="140" y="963" font-size="37" textLength="366" lengthAdjust="spacingAndGlyphs">(C) <tspan font-style="italic">p</tspan>-GSK-3β/GSK-3β</text>
<line x1="152.50" y1="1020.50" x2="152.50" y2="1842.25" stroke="#000" stroke-width="3.2"/>
<line x1="152.50" y1="1840.75" x2="164.50" y2="1840.75" stroke="#000" stroke-width="3"/>
<text x="137.50" y="1851.95" font-size="33" text-anchor="end" textLength="15.30" lengthAdjust="spacingAndGlyphs" >0</text>
<line x1="152.50" y1="1677.00" x2="164.50" y2="1677.00" stroke="#000" stroke-width="3"/>
<text x="137.50" y="1688.20" font-size="33" text-anchor="end" textLength="30.60" lengthAdjust="spacingAndGlyphs" >50</text>
<line x1="152.50" y1="1513.25" x2="164.50" y2="1513.25" stroke="#000" stroke-width="3"/>
<text x="137.50" y="1524.45" font-size="33" text-anchor="end" textLength="45.90" lengthAdjust="spacingAndGlyphs" >100</text>
<line x1="152.50" y1="1349.50" x2="164.50" y2="1349.50" stroke="#000" stroke-width="3"/>
<text x="137.50" y="1360.70" font-size="33" text-anchor="end" textLength="45.90" lengthAdjust="spacingAndGlyphs" >150</text>
<line x1="152.50" y1="1185.75" x2="164.50" y2="1185.75" stroke="#000" stroke-width="3"/>
<text x="137.50" y="1196.95" font-size="33" text-anchor="end" textLength="45.90" lengthAdjust="spacingAndGlyphs" >200</text>
<line x1="152.50" y1="1022.00" x2="164.50" y2="1022.00" stroke="#000" stroke-width="3"/>
<text x="137.50" y="1033.20" font-size="33" text-anchor="end" textLength="45.90" lengthAdjust="spacingAndGlyphs" >250</text>
<text x="54.60" y="1432.00" font-size="39" text-anchor="middle" textLength="457.50" lengthAdjust="spacingAndGlyphs" transform="rotate(-90 54.60 1432.00)" >Relative intensity (% of control)</text>
<line x1="340.00" y1="1513.00" x2="340.00" y2="1506.25" stroke="#000" stroke-width="2.4"/>
<line x1="327.70" y1="1506.25" x2="352.30" y2="1506.25" stroke="#000" stroke-width="2.7"/>
<rect x="265.00" y="1513.00" width="150.00" height="327.75" fill="#c0c0c0"/>
<line x1="263.30" y1="1513.00" x2="416.70" y2="1513.00" stroke="#000" stroke-width="2.2"/>
<line x1="265.00" y1="1511.90" x2="265.00" y2="1840.75" stroke="#000" stroke-width="3.4"/>
<line x1="415.00" y1="1511.90" x2="415.00" y2="1840.75" stroke="#000" stroke-width="3.4"/>
<line x1="265.00" y1="1840.75" x2="415.00" y2="1840.75" stroke="#000" stroke-width="2.2"/>
<line x1="527.50" y1="1211.25" x2="527.50" y2="1183.75" stroke="#000" stroke-width="2.4"/>
<line x1="515.20" y1="1183.75" x2="539.80" y2="1183.75" stroke="#000" stroke-width="2.7"/>
<rect x="453.50" y="1211.25" width="149.50" height="629.50" fill="#fff"/>
<line x1="451.80" y1="1211.25" x2="604.70" y2="1211.25" stroke="#000" stroke-width="2.2"/>
<line x1="453.50" y1="1210.15" x2="453.50" y2="1840.75" stroke="#000" stroke-width="3.4"/>
<line x1="603.00" y1="1210.15" x2="603.00" y2="1840.75" stroke="#000" stroke-width="3.4"/>
<line x1="453.50" y1="1840.75" x2="603.00" y2="1840.75" stroke="#000" stroke-width="2.2"/>
<line x1="715.50" y1="1372.50" x2="715.50" y2="1350.00" stroke="#000" stroke-width="2.4"/>
<line x1="703.20" y1="1350.00" x2="727.80" y2="1350.00" stroke="#000" stroke-width="2.7"/>
<rect x="640.50" y="1372.50" width="150.00" height="468.25" fill="#fff"/>
<line x1="640.50" y1="1377.00" x2="790.50" y2="1377.00" stroke="#000" stroke-width="1.53"/>
<line x1="640.50" y1="1388.55" x2="790.50" y2="1388.55" stroke="#000" stroke-width="1.53"/>
<line x1="640.50" y1="1400.10" x2="790.50" y2="1400.10" stroke="#000" stroke-width="1.53"/>
<line x1="640.50" y1="1411.65" x2="790.50" y2="1411.65" stroke="#000" stroke-width="1.53"/>
<line x1="640.50" y1="1423.20" x2="790.50" y2="1423.20" stroke="#000" stroke-width="1.53"/>
<line x1="640.50" y1="1434.75" x2="790.50" y2="1434.75" stroke="#000" stroke-width="1.53"/>
<line x1="640.50" y1="1446.30" x2="790.50" y2="1446.30" stroke="#000" stroke-width="1.53"/>
<line x1="640.50" y1="1457.85" x2="790.50" y2="1457.85" stroke="#000" stroke-width="1.53"/>
<line x1="640.50" y1="1469.40" x2="790.50" y2="1469.40" stroke="#000" stroke-width="1.53"/>
<line x1="640.50" y1="1480.95" x2="790.50" y2="1480.95" stroke="#000" stroke-width="1.53"/>
<line x1="640.50" y1="1492.50" x2="790.50" y2="1492.50" stroke="#000" stroke-width="1.53"/>
<line x1="640.50" y1="1504.05" x2="790.50" y2="1504.05" stroke="#000" stroke-width="1.53"/>
<line x1="640.50" y1="1515.60" x2="790.50" y2="1515.60" stroke="#000" stroke-width="1.53"/>
<line x1="640.50" y1="1527.15" x2="790.50" y2="1527.15" stroke="#000" stroke-width="1.53"/>
<line x1="640.50" y1="1538.70" x2="790.50" y2="1538.70" stroke="#000" stroke-width="1.53"/>
<line x1="640.50" y1="1550.25" x2="790.50" y2="1550.25" stroke="#000" stroke-width="1.53"/>
<line x1="640.50" y1="1561.80" x2="790.50" y2="1561.80" stroke="#000" stroke-width="1.53"/>
<line x1="640.50" y1="1573.35" x2="790.50" y2="1573.35" stroke="#000" stroke-width="1.53"/>
<line x1="640.50" y1="1584.90" x2="790.50" y2="1584.90" stroke="#000" stroke-width="1.53"/>
<line x1="640.50" y1="1596.45" x2="790.50" y2="1596.45" stroke="#000" stroke-width="1.53"/>
<line x1="640.50" y1="1608.00" x2="790.50" y2="1608.00" stroke="#000" stroke-width="1.53"/>
<line x1="640.50" y1="1619.55" x2="790.50" y2="1619.55" stroke="#000" stroke-width="1.53"/>
<line x1="640.50" y1="1631.10" x2="790.50" y2="1631.10" stroke="#000" stroke-width="1.53"/>
<line x1="640.50" y1="1642.65" x2="790.50" y2="1642.65" stroke="#000" stroke-width="1.53"/>
<line x1="640.50" y1="1654.20" x2="790.50" y2="1654.20" stroke="#000" stroke-width="1.53"/>
<line x1="640.50" y1="1665.75" x2="790.50" y2="1665.75" stroke="#000" stroke-width="1.53"/>
<line x1="640.50" y1="1677.30" x2="790.50" y2="1677.30" stroke="#000" stroke-width="1.53"/>
<line x1="640.50" y1="1688.85" x2="790.50" y2="1688.85" stroke="#000" stroke-width="1.53"/>
<line x1="640.50" y1="1700.40" x2="790.50" y2="1700.40" stroke="#000" stroke-width="1.53"/>
<line x1="640.50" y1="1711.95" x2="790.50" y2="1711.95" stroke="#000" stroke-width="1.53"/>
<line x1="640.50" y1="1723.50" x2="790.50" y2="1723.50" stroke="#000" stroke-width="1.53"/>
<line x1="640.50" y1="1735.05" x2="790.50" y2="1735.05" stroke="#000" stroke-width="1.53"/>
<line x1="640.50" y1="1746.60" x2="790.50" y2="1746.60" stroke="#000" stroke-width="1.53"/>
<line x1="640.50" y1="1758.15" x2="790.50" y2="1758.15" stroke="#000" stroke-width="1.53"/>
<line x1="640.50" y1="1769.70" x2="790.50" y2="1769.70" stroke="#000" stroke-width="1.53"/>
<line x1="640.50" y1="1781.25" x2="790.50" y2="1781.25" stroke="#000" stroke-width="1.53"/>
<line x1="640.50" y1="1792.80" x2="790.50" y2="1792.80" stroke="#000" stroke-width="1.53"/>
<line x1="640.50" y1="1804.35" x2="790.50" y2="1804.35" stroke="#000" stroke-width="1.53"/>
<line x1="640.50" y1="1815.90" x2="790.50" y2="1815.90" stroke="#000" stroke-width="1.53"/>
<line x1="640.50" y1="1827.45" x2="790.50" y2="1827.45" stroke="#000" stroke-width="1.53"/>
<line x1="638.80" y1="1372.50" x2="792.20" y2="1372.50" stroke="#000" stroke-width="2.2"/>
<line x1="640.50" y1="1371.40" x2="640.50" y2="1840.75" stroke="#000" stroke-width="3.4"/>
<line x1="790.50" y1="1371.40" x2="790.50" y2="1840.75" stroke="#000" stroke-width="3.4"/>
<line x1="640.50" y1="1840.75" x2="790.50" y2="1840.75" stroke="#000" stroke-width="2.2"/>
<line x1="903.75" y1="1484.00" x2="903.75" y2="1463.75" stroke="#000" stroke-width="2.4"/>
<line x1="891.45" y1="1463.75" x2="916.05" y2="1463.75" stroke="#000" stroke-width="2.7"/>
<rect x="828.00" y="1484.00" width="151.25" height="356.75" fill="#fff"/>
<line x1="841.75" y1="1484.00" x2="841.75" y2="1840.75" stroke="#000" stroke-width="2.3400000000000003"/>
<line x1="853.30" y1="1484.00" x2="853.30" y2="1840.75" stroke="#000" stroke-width="2.3400000000000003"/>
<line x1="864.85" y1="1484.00" x2="864.85" y2="1840.75" stroke="#000" stroke-width="2.3400000000000003"/>
<line x1="876.40" y1="1484.00" x2="876.40" y2="1840.75" stroke="#000" stroke-width="2.3400000000000003"/>
<line x1="887.95" y1="1484.00" x2="887.95" y2="1840.75" stroke="#000" stroke-width="2.3400000000000003"/>
<line x1="899.50" y1="1484.00" x2="899.50" y2="1840.75" stroke="#000" stroke-width="2.3400000000000003"/>
<line x1="911.05" y1="1484.00" x2="911.05" y2="1840.75" stroke="#000" stroke-width="2.3400000000000003"/>
<line x1="922.60" y1="1484.00" x2="922.60" y2="1840.75" stroke="#000" stroke-width="2.3400000000000003"/>
<line x1="934.15" y1="1484.00" x2="934.15" y2="1840.75" stroke="#000" stroke-width="2.3400000000000003"/>
<line x1="945.70" y1="1484.00" x2="945.70" y2="1840.75" stroke="#000" stroke-width="2.3400000000000003"/>
<line x1="957.25" y1="1484.00" x2="957.25" y2="1840.75" stroke="#000" stroke-width="2.3400000000000003"/>
<line x1="968.80" y1="1484.00" x2="968.80" y2="1840.75" stroke="#000" stroke-width="2.3400000000000003"/>
<line x1="826.30" y1="1484.00" x2="980.95" y2="1484.00" stroke="#000" stroke-width="2.2"/>
<line x1="828.00" y1="1482.90" x2="828.00" y2="1840.75" stroke="#000" stroke-width="3.4"/>
<line x1="979.25" y1="1482.90" x2="979.25" y2="1840.75" stroke="#000" stroke-width="3.4"/>
<line x1="828.00" y1="1840.75" x2="979.25" y2="1840.75" stroke="#000" stroke-width="2.2"/>
<line x1="1090.75" y1="1486.25" x2="1090.75" y2="1457.75" stroke="#000" stroke-width="2.4"/>
<line x1="1078.45" y1="1457.75" x2="1103.05" y2="1457.75" stroke="#000" stroke-width="2.7"/>
<rect x="1016.25" y="1486.25" width="150.00" height="354.50" fill="#fff"/>
<line x1="1016.25" y1="1491.05" x2="1166.25" y2="1491.05" stroke="#000" stroke-width="2.125"/>
<line x1="1016.25" y1="1502.55" x2="1166.25" y2="1502.55" stroke="#000" stroke-width="2.125"/>
<line x1="1016.25" y1="1514.05" x2="1166.25" y2="1514.05" stroke="#000" stroke-width="2.125"/>
<line x1="1016.25" y1="1525.55" x2="1166.25" y2="1525.55" stroke="#000" stroke-width="2.125"/>
<line x1="1016.25" y1="1537.05" x2="1166.25" y2="1537.05" stroke="#000" stroke-width="2.125"/>
<line x1="1016.25" y1="1548.55" x2="1166.25" y2="1548.55" stroke="#000" stroke-width="2.125"/>
<line x1="1016.25" y1="1560.05" x2="1166.25" y2="1560.05" stroke="#000" stroke-width="2.125"/>
<line x1="1016.25" y1="1571.55" x2="1166.25" y2="1571.55" stroke="#000" stroke-width="2.125"/>
<line x1="1016.25" y1="1583.05" x2="1166.25" y2="1583.05" stroke="#000" stroke-width="2.125"/>
<line x1="1016.25" y1="1594.55" x2="1166.25" y2="1594.55" stroke="#000" stroke-width="2.125"/>
<line x1="1016.25" y1="1606.05" x2="1166.25" y2="1606.05" stroke="#000" stroke-width="2.125"/>
<line x1="1016.25" y1="1617.55" x2="1166.25" y2="1617.55" stroke="#000" stroke-width="2.125"/>
<line x1="1016.25" y1="1629.05" x2="1166.25" y2="1629.05" stroke="#000" stroke-width="2.125"/>
<line x1="1016.25" y1="1640.55" x2="1166.25" y2="1640.55" stroke="#000" stroke-width="2.125"/>
<line x1="1016.25" y1="1652.05" x2="1166.25" y2="1652.05" stroke="#000" stroke-width="2.125"/>
<line x1="1016.25" y1="1663.55" x2="1166.25" y2="1663.55" stroke="#000" stroke-width="2.125"/>
<line x1="1016.25" y1="1675.05" x2="1166.25" y2="1675.05" stroke="#000" stroke-width="2.125"/>
<line x1="1016.25" y1="1686.55" x2="1166.25" y2="1686.55" stroke="#000" stroke-width="2.125"/>
<line x1="1016.25" y1="1698.05" x2="1166.25" y2="1698.05" stroke="#000" stroke-width="2.125"/>
<line x1="1016.25" y1="1709.55" x2="1166.25" y2="1709.55" stroke="#000" stroke-width="2.125"/>
<line x1="1016.25" y1="1721.05" x2="1166.25" y2="1721.05" stroke="#000" stroke-width="2.125"/>
<line x1="1016.25" y1="1732.55" x2="1166.25" y2="1732.55" stroke="#000" stroke-width="2.125"/>
<line x1="1016.25" y1="1744.05" x2="1166.25" y2="1744.05" stroke="#000" stroke-width="2.125"/>
<line x1="1016.25" y1="1755.55" x2="1166.25" y2="1755.55" stroke="#000" stroke-width="2.125"/>
<line x1="1016.25" y1="1767.05" x2="1166.25" y2="1767.05" stroke="#000" stroke-width="2.125"/>
<line x1="1016.25" y1="1778.55" x2="1166.25" y2="1778.55" stroke="#000" stroke-width="2.125"/>
<line x1="1016.25" y1="1790.05" x2="1166.25" y2="1790.05" stroke="#000" stroke-width="2.125"/>
<line x1="1016.25" y1="1801.55" x2="1166.25" y2="1801.55" stroke="#000" stroke-width="2.125"/>
<line x1="1016.25" y1="1813.05" x2="1166.25" y2="1813.05" stroke="#000" stroke-width="2.125"/>
<line x1="1016.25" y1="1824.55" x2="1166.25" y2="1824.55" stroke="#000" stroke-width="2.125"/>
<line x1="1016.25" y1="1836.05" x2="1166.25" y2="1836.05" stroke="#000" stroke-width="2.125"/>
<line x1="1024.05" y1="1486.25" x2="1024.05" y2="1840.75" stroke="#000" stroke-width="3.25"/>
<line x1="1035.55" y1="1486.25" x2="1035.55" y2="1840.75" stroke="#000" stroke-width="3.25"/>
<line x1="1047.05" y1="1486.25" x2="1047.05" y2="1840.75" stroke="#000" stroke-width="3.25"/>
<line x1="1058.55" y1="1486.25" x2="1058.55" y2="1840.75" stroke="#000" stroke-width="3.25"/>
<line x1="1070.05" y1="1486.25" x2="1070.05" y2="1840.75" stroke="#000" stroke-width="3.25"/>
<line x1="1081.55" y1="1486.25" x2="1081.55" y2="1840.75" stroke="#000" stroke-width="3.25"/>
<line x1="1093.05" y1="1486.25" x2="1093.05" y2="1840.75" stroke="#000" stroke-width="3.25"/>
<line x1="1104.55" y1="1486.25" x2="1104.55" y2="1840.75" stroke="#000" stroke-width="3.25"/>
<line x1="1116.05" y1="1486.25" x2="1116.05" y2="1840.75" stroke="#000" stroke-width="3.25"/>
<line x1="1127.55" y1="1486.25" x2="1127.55" y2="1840.75" stroke="#000" stroke-width="3.25"/>
<line x1="1139.05" y1="1486.25" x2="1139.05" y2="1840.75" stroke="#000" stroke-width="3.25"/>
<line x1="1150.55" y1="1486.25" x2="1150.55" y2="1840.75" stroke="#000" stroke-width="3.25"/>
<line x1="1162.05" y1="1486.25" x2="1162.05" y2="1840.75" stroke="#000" stroke-width="3.25"/>
<line x1="1014.55" y1="1486.25" x2="1167.95" y2="1486.25" stroke="#000" stroke-width="2.2"/>
<line x1="1016.25" y1="1485.15" x2="1016.25" y2="1840.75" stroke="#000" stroke-width="3.4"/>
<line x1="1166.25" y1="1485.15" x2="1166.25" y2="1840.75" stroke="#000" stroke-width="3.4"/>
<line x1="1016.25" y1="1840.75" x2="1166.25" y2="1840.75" stroke="#000" stroke-width="2.2"/>
<line x1="151.00" y1="1840.75" x2="1280.00" y2="1840.75" stroke="#000" stroke-width="3.5"/>
<text x="339.70" y="1473.94" font-size="44" text-anchor="middle" textLength="38.60" lengthAdjust="spacingAndGlyphs" >**</text>
<text x="719.10" y="1335.04" font-size="44" text-anchor="middle" textLength="38.60" lengthAdjust="spacingAndGlyphs" >**</text>
<text x="900.30" y="1446.34" font-size="44" text-anchor="middle" textLength="38.60" lengthAdjust="spacingAndGlyphs" >**</text>
<text x="1091.80" y="1436.44" font-size="44" text-anchor="middle" textLength="38.60" lengthAdjust="spacingAndGlyphs" >**</text>
<rect x="755.8" y="987.6" width="87.0" height="28" fill="#c0c0c0" stroke="#000" stroke-width="2.5"/>
<text x="864.00" y="1015.10" font-size="41" textLength="109.00" lengthAdjust="spacingAndGlyphs" >Control</text>
<rect x="755.8" y="1035.7" width="87.0" height="28" fill="#fff" stroke="#000" stroke-width="2.5"/>
<text x="864.00" y="1063.20" font-size="41" textLength="95.00" lengthAdjust="spacingAndGlyphs" >MPTP</text>
<rect x="755.8" y="1083.9" width="87.0" height="28" fill="#fff"/>
<line x1="755.80" y1="1086.90" x2="842.80" y2="1086.90" stroke="#000" stroke-width="5"/>
<line x1="755.80" y1="1099.90" x2="842.80" y2="1099.90" stroke="#000" stroke-width="2.2"/>
<rect x="755.8" y="1083.9" width="87.0" height="28" fill="none" stroke="#000" stroke-width="2.5"/>
<text x="864.00" y="1111.40" font-size="41" textLength="327.00" lengthAdjust="spacingAndGlyphs" >MPTP + ST 25 mg/kg</text>
<rect x="755.8" y="1133.6" width="87.0" height="28" fill="#fff"/>
<line x1="759.00" y1="1133.60" x2="759.00" y2="1161.60" stroke="#000" stroke-width="2"/>
<line x1="762.60" y1="1133.60" x2="762.60" y2="1161.60" stroke="#000" stroke-width="2"/>
<line x1="773.90" y1="1133.60" x2="773.90" y2="1161.60" stroke="#000" stroke-width="2"/>
<line x1="785.20" y1="1133.60" x2="785.20" y2="1161.60" stroke="#000" stroke-width="2"/>
<line x1="796.30" y1="1133.60" x2="796.30" y2="1161.60" stroke="#000" stroke-width="2"/>
<line x1="807.80" y1="1133.60" x2="807.80" y2="1161.60" stroke="#000" stroke-width="2"/>
<line x1="819.10" y1="1133.60" x2="819.10" y2="1161.60" stroke="#000" stroke-width="2"/>
<line x1="830.40" y1="1133.60" x2="830.40" y2="1161.60" stroke="#000" stroke-width="2"/>
<rect x="755.8" y="1133.6" width="87.0" height="28" fill="none" stroke="#000" stroke-width="2.5"/>
<text x="864.00" y="1161.10" font-size="41" textLength="327.00" lengthAdjust="spacingAndGlyphs" >MPTP + ST 50 mg/kg</text>
<rect x="755.8" y="1181.5" width="87.0" height="28" fill="#fff"/>
<line x1="759.00" y1="1181.50" x2="759.00" y2="1209.50" stroke="#000" stroke-width="2"/>
<line x1="762.60" y1="1181.50" x2="762.60" y2="1209.50" stroke="#000" stroke-width="2"/>
<line x1="773.90" y1="1181.50" x2="773.90" y2="1209.50" stroke="#000" stroke-width="2"/>
<line x1="785.20" y1="1181.50" x2="785.20" y2="1209.50" stroke="#000" stroke-width="2"/>
<line x1="796.30" y1="1181.50" x2="796.30" y2="1209.50" stroke="#000" stroke-width="2"/>
<line x1="807.80" y1="1181.50" x2="807.80" y2="1209.50" stroke="#000" stroke-width="2"/>
<line x1="819.10" y1="1181.50" x2="819.10" y2="1209.50" stroke="#000" stroke-width="2"/>
<line x1="830.40" y1="1181.50" x2="830.40" y2="1209.50" stroke="#000" stroke-width="2"/>
<line x1="755.80" y1="1190.00" x2="842.80" y2="1190.00" stroke="#000" stroke-width="2"/>
<line x1="755.80" y1="1200.70" x2="842.80" y2="1200.70" stroke="#000" stroke-width="2"/>
<rect x="755.8" y="1181.5" width="87.0" height="28" fill="none" stroke="#000" stroke-width="2.5"/>
<text x="864.00" y="1209.00" font-size="41" textLength="346.00" lengthAdjust="spacingAndGlyphs" >MPTP + ST 100 mg/kg</text>
<text x="1420.00" y="1049.00" font-size="44" textLength="293.00" lengthAdjust="spacingAndGlyphs" >(D) Western blot</text>
<text x="1665.50" y="1147.60" font-size="52" text-anchor="end" textLength="66.50" lengthAdjust="spacingAndGlyphs" >TH</text>
<text x="1680.6" y="1233.7" font-size="46" text-anchor="end" textLength="186.6" lengthAdjust="spacingAndGlyphs"><tspan font-style="italic">p</tspan>-GSK-3β</text>
<text x="1687.00" y="1350.80" font-size="46" text-anchor="end" textLength="143.00" lengthAdjust="spacingAndGlyphs" >GSK-3β</text>
<text x="1690.70" y="1451.60" font-size="46" text-anchor="end" textLength="200.00" lengthAdjust="spacingAndGlyphs" >α-synuclein</text>
<text x="1703.80" y="1556.50" font-size="46" text-anchor="end" textLength="83.00" lengthAdjust="spacingAndGlyphs" >actin</text>
<line x1="1472.50" y1="1628.20" x2="2349.30" y2="1628.20" stroke="#000" stroke-width="3"/>
<line x1="1472.50" y1="1634.70" x2="2349.30" y2="1634.70" stroke="#000" stroke-width="3"/>
<text x="1715.60" y="1721.00" font-size="44" text-anchor="end" textLength="113.00" lengthAdjust="spacingAndGlyphs" >MPTP</text>
<text x="1681.00" y="1811.40" font-size="44" text-anchor="end" textLength="48.00" lengthAdjust="spacingAndGlyphs" >ST</text>
<text x="1810.50" y="1721.00" font-size="44" text-anchor="middle" >-</text>
<text x="1928.00" y="1721.00" font-size="44" text-anchor="middle" textLength="25.00" lengthAdjust="spacingAndGlyphs" >+</text>
<text x="2052.50" y="1721.00" font-size="44" text-anchor="middle" textLength="25.00" lengthAdjust="spacingAndGlyphs" >+</text>
<text x="2186.00" y="1721.00" font-size="44" text-anchor="middle" textLength="25.00" lengthAdjust="spacingAndGlyphs" >+</text>
<text x="2299.00" y="1721.00" font-size="44" text-anchor="middle" textLength="25.00" lengthAdjust="spacingAndGlyphs" >+</text>
<text x="1810.00" y="1811.40" font-size="44" text-anchor="middle" >-</text>
<text x="1934.00" y="1811.40" font-size="44" text-anchor="middle" >-</text>
<text x="2061.00" y="1811.40" font-size="44" text-anchor="middle" textLength="40.50" lengthAdjust="spacingAndGlyphs" >25</text>
<text x="2194.00" y="1811.40" font-size="44" text-anchor="middle" textLength="41.00" lengthAdjust="spacingAndGlyphs" >50</text>
<text x="2315.50" y="1811.40" font-size="44" text-anchor="middle" textLength="63.00" lengthAdjust="spacingAndGlyphs" >100</text>
<linearGradient id="g1" x1="0" y1="0" x2="1" y2="0"><stop offset="0" stop-color="#1a1a1a"/><stop offset="0.5" stop-color="#444"/><stop offset="1" stop-color="#777"/></linearGradient>
<linearGradient id="gv" x1="0" y1="0" x2="0" y2="1"><stop offset="0" stop-color="#fff" stop-opacity="0"/><stop offset="1" stop-color="#fff" stop-opacity="0.85"/></linearGradient>
<linearGradient id="g2" x1="0" y1="0" x2="1" y2="0"><stop offset="0" stop-color="#0a0a0a"/><stop offset="0.3" stop-color="#222"/><stop offset="1" stop-color="#666"/></linearGradient>
<linearGradient id="g3" x1="0" y1="0" x2="0" y2="1"><stop offset="0" stop-color="#777"/><stop offset="1" stop-color="#ddd" stop-opacity="0.4"/></linearGradient>
<linearGradient id="g4" x1="0" y1="0" x2="0" y2="1"><stop offset="0" stop-color="#666"/><stop offset="1" stop-color="#bbb" stop-opacity="0.5"/></linearGradient>
<clipPath id="gskclip"><rect x="1700" y="1317" width="700" height="80"/></clipPath>
<path d="M1755.0,1108.0 C1755.0,1103.0 1761.0,1103.0 1780.5,1103.0 L1814.5,1105.5 C1832.0,1106.0 1840.0,1106.0 1840.0,1110.0 Q1840.0,1117.0 1836.0,1119.0 L1835.0,1128.5 Q1835.0,1137.5 1826.0,1137.5 L1767.5,1137.5 Q1758.5,1137.5 1758.5,1128.5 L1757.5,1117.0 Q1755.0,1115.0 1755.0,1108.0 Z" fill="#000" fill-opacity="1.0" filter="url(#b28)"/>
<path d="M1870.0,1112.0 C1870.0,1107.0 1876.0,1108.0 1894.6,1108.0 L1927.4,1110.0 C1944.0,1110.4 1952.0,1110.0 1952.0,1114.0 Q1952.0,1120.0 1949.0,1122.0 L1948.0,1121.0 Q1948.0,1127.0 1942.0,1127.0 L1879.5,1127.0 Q1873.5,1127.0 1873.5,1121.0 L1872.5,1120.0 Q1870.0,1118.0 1870.0,1112.0 Z" fill="#000" fill-opacity="1.0" filter="url(#b28)"/>
<path d="M1874,1122 L1949,1122 L1947,1131 Q1946,1136 1940,1136 L1885,1136 Q1878,1136 1876,1130 Z" fill="url(#g2)" filter="url(#b18)"/>
<path d="M1981.0,1110.0 C1981.0,1105.0 1987.0,1105.0 2007.4,1105.0 L2042.6,1106.5 C2061.0,1106.8 2069.0,1106.0 2069.0,1110.0 Q2069.0,1117.0 2065.5,1119.0 L2064.5,1136.0 Q2064.5,1147.0 2053.5,1147.0 L1996.0,1147.0 Q1985.0,1147.0 1985.0,1136.0 L1984.0,1119.0 Q1981.0,1117.0 1981.0,1110.0 Z" fill="#000" fill-opacity="1.0" filter="url(#b28)"/>
<path d="M2095.0,1113.5 C2095.0,1108.5 2101.0,1108.5 2121.7,1108.5 L2157.3,1110.0 C2176.0,1110.3 2184.0,1109.5 2184.0,1113.5 Q2184.0,1119.5 2180.0,1121.5 L2179.0,1131.5 Q2179.0,1140.5 2170.0,1140.5 L2108.5,1140.5 Q2099.5,1140.5 2099.5,1131.5 L2098.5,1121.5 Q2095.0,1119.5 2095.0,1113.5 Z" fill="#000" fill-opacity="1.0" filter="url(#b28)"/>
<path d="M2208.0,1115.0 C2208.0,1110.0 2214.0,1110.0 2238.0,1110.0 L2278.0,1113.0 C2300.0,1113.6 2308.0,1114.0 2308.0,1118.0 Q2308.0,1123.0 2299.0,1125.0 L2298.0,1136.0 Q2298.0,1146.0 2288.0,1146.0 L2223.0,1146.0 Q2213.0,1146.0 2213.0,1136.0 L2212.0,1122.0 Q2208.0,1120.0 2208.0,1115.0 Z" fill="#000" fill-opacity="1.0" filter="url(#b28)"/>
<path d="M1758,1212 Q1770,1197 1795,1199 Q1820,1201 1832,1212 Z" fill="#000" fill-opacity="0.18" filter="url(#b35)"/>
<path d="M1756,1222 L1833,1222 L1831,1236 Q1828,1243 1815,1243 L1770,1245 Q1758,1245 1757,1236 Z" fill="url(#g1)" filter="url(#b20)"/>
<path d="M1753,1220 C1753,1212 1760,1211 1775,1211 L1820,1213 C1832,1214 1837,1216 1836,1220 C1835,1224 1830,1226 1815,1227 L1765,1228 C1756,1228 1753,1226 1753,1220 Z" fill="#000" filter="url(#b16)"/>
<path d="M1876,1207 Q1880,1192 1905,1192 Q1935,1193 1940,1207 Z" fill="#000" fill-opacity="0.2" filter="url(#b35)"/>
<path d="M1862.5,1213.5 C1862.5,1208.5 1868.5,1208.5 1890.5,1208.5 L1928.0,1210.0 C1948.0,1210.3 1956.0,1209.5 1956.0,1213.5 Q1956.0,1220.5 1951.0,1222.5 L1950.0,1233.0 Q1950.0,1243.0 1940.0,1243.0 L1876.5,1243.0 Q1866.5,1243.0 1866.5,1233.0 L1865.5,1222.5 Q1862.5,1220.5 1862.5,1213.5 Z" fill="#000" fill-opacity="1.0" filter="url(#b28)"/>
<rect x="1872" y="1238" width="78" height="9" rx="4" fill="#000" fill-opacity="0.3" filter="url(#b25)"/>
<path d="M1979.5,1214.0 C1979.5,1209.0 1985.5,1209.0 2004.8,1209.0 L2038.7,1212.5 C2056.0,1213.2 2064.0,1214.0 2064.0,1218.0 Q2064.0,1224.0 2057.0,1226.0 L2056.0,1234.0 Q2056.0,1244.0 2046.0,1244.0 L1993.5,1244.0 Q1983.5,1244.0 1983.5,1234.0 L1982.5,1222.0 Q1979.5,1220.0 1979.5,1214.0 Z" fill="#000" fill-opacity="1.0" filter="url(#b28)"/>
<path d="M2099,1223 C2099,1219 2105,1218 2120,1218 L2165,1219 C2175,1221 2178,1222 2177,1223.5 C2176,1225 2170,1226 2155,1226.5 L2115,1229 C2103,1229 2099,1227 2099,1223 Z" fill="#444" filter="url(#b20)"/>
<rect x="2106" y="1229" width="66" height="12" rx="5" fill="url(#g3)" fill-opacity="0.45" filter="url(#b25)"/>
<linearGradient id="g5" x1="0" y1="0" x2="0" y2="1"><stop offset="0" stop-color="#808080"/><stop offset="0.3" stop-color="#666"/><stop offset="0.45" stop-color="#999"/><stop offset="1" stop-color="#d5d5d5"/></linearGradient>
<path d="M2214,1226 C2214,1220 2222,1219.5 2240,1219.5 L2278,1220 C2290,1220.5 2293,1223 2293,1228 L2291,1243 Q2290,1248 2280,1248.5 L2228,1249 Q2218,1249 2217,1242 Z" fill="url(#g5)" filter="url(#b25)"/>
<path d="M2230,1229 C2248,1226.5 2272,1226 2290,1227 C2294,1228 2294,1231 2289,1232 C2270,1232.5 2248,1232 2230,1230.5 Z" fill="#111" filter="url(#b15)"/>
<rect x="1745" y="1317" width="577" height="36" fill="#000" fill-opacity="0.03" filter="url(#b30)" clip-path="url(#gskclip)"/>
<g clip-path="url(#gskclip)"><path d="M1753.0,1304.0 Q1753.0,1300.0 1757.0,1300.0 L1832.0,1300.0 Q1836.0,1300.0 1836.0,1304.0 L1834.0,1343.0 Q1834.0,1357.0 1820.0,1357.0 L1769.0,1357.0 Q1755.0,1357.0 1755.0,1343.0 Z" fill="#3a3a3a" fill-opacity="1.0" filter="url(#b50)"/></g>
<g clip-path="url(#gskclip)"><path d="M1868.0,1304.0 Q1868.0,1300.0 1872.0,1300.0 L1947.0,1300.0 Q1951.0,1300.0 1951.0,1304.0 L1949.0,1335.0 Q1949.0,1349.0 1935.0,1349.0 L1884.0,1349.0 Q1870.0,1349.0 1870.0,1335.0 Z" fill="#8d8d8d" fill-opacity="1.0" filter="url(#b50)"/></g>
<g clip-path="url(#gskclip)"><path d="M1984.0,1304.0 Q1984.0,1300.0 1988.0,1300.0 L2062.0,1300.0 Q2066.0,1300.0 2066.0,1304.0 L2064.0,1335.0 Q2064.0,1349.0 2050.0,1349.0 L2000.0,1349.0 Q1986.0,1349.0 1986.0,1335.0 Z" fill="#ababab" fill-opacity="1.0" filter="url(#b50)"/></g>
<g clip-path="url(#gskclip)"><path d="M2099.0,1304.0 Q2099.0,1300.0 2103.0,1300.0 L2180.0,1300.0 Q2184.0,1300.0 2184.0,1304.0 L2182.0,1336.0 Q2182.0,1350.0 2168.0,1350.0 L2115.0,1350.0 Q2101.0,1350.0 2101.0,1336.0 Z" fill="#b3b3b3" fill-opacity="1.0" filter="url(#b50)"/></g>
<g clip-path="url(#gskclip)"><path d="M2214.0,1304.0 Q2214.0,1300.0 2218.0,1300.0 L2302.0,1300.0 Q2306.0,1300.0 2306.0,1304.0 L2304.0,1346.0 Q2304.0,1360.0 2290.0,1360.0 L2230.0,1360.0 Q2216.0,1360.0 2216.0,1346.0 Z" fill="#5e5e5e" fill-opacity="1.0" filter="url(#b50)"/></g>
<ellipse cx="1800.0" cy="1432.0" rx="30.0" ry="10.0" fill="#bbb" fill-opacity="0.6" filter="url(#b45)"/>
<ellipse cx="1811.0" cy="1445.5" rx="39.0" ry="7.5" fill="#888" fill-opacity="1.0" filter="url(#b28)"/>
<ellipse cx="1925.0" cy="1432.0" rx="38.0" ry="9.0" fill="#999" fill-opacity="0.5" filter="url(#b45)"/>
<ellipse cx="1929.0" cy="1448.0" rx="41.0" ry="10.5" fill="#000" fill-opacity="1.0" filter="url(#b22)"/>
<ellipse cx="2037.0" cy="1448.0" rx="40.0" ry="9.5" fill="#1a1a1a" fill-opacity="1.0" filter="url(#b25)"/>
<ellipse cx="2150.0" cy="1449.0" rx="36.0" ry="6.5" fill="#888" fill-opacity="1.0" filter="url(#b25)"/>
<ellipse cx="2285.0" cy="1448.0" rx="30.0" ry="7.5" fill="#8a8a8a" fill-opacity="1.0" filter="url(#b28)"/>
<ellipse cx="2258.0" cy="1449.0" rx="18.0" ry="4.0" fill="#aaa" fill-opacity="1.0" filter="url(#b25)"/>
<g><path d="M1756.5,1535.5 Q1756.5,1521.5 1770.5,1521.5 L1837.5,1520.5 Q1851.5,1520.5 1851.5,1534.5 L1850.5,1546.0 Q1850.5,1561.0 1835.5,1561.0 L1772.5,1561.0 Q1757.5,1561.0 1757.5,1546.0 Z" fill="#888" fill-opacity="1.0" filter="url(#b35)"/></g>
<g><path d="M1880.5,1541.0 Q1880.5,1527.0 1894.5,1527.0 L1953.5,1527.0 Q1967.5,1527.0 1967.5,1541.0 L1966.5,1543.5 Q1966.5,1558.5 1951.5,1558.5 L1896.5,1558.5 Q1881.5,1558.5 1881.5,1543.5 Z" fill="#a8a8a8" fill-opacity="1.0" filter="url(#b35)"/></g>
<g><path d="M1998.0,1535.5 Q1998.0,1521.5 2012.0,1521.5 L2073.5,1521.5 Q2087.5,1521.5 2087.5,1535.5 L2086.5,1543.5 Q2086.5,1558.5 2071.5,1558.5 L2014.0,1558.5 Q1999.0,1558.5 1999.0,1543.5 Z" fill="#989898" fill-opacity="1.0" filter="url(#b35)"/></g>
<g><path d="M2118.0,1532.5 Q2118.0,1518.5 2132.0,1518.5 L2195.0,1518.5 Q2209.0,1518.5 2209.0,1532.5 L2208.0,1539.5 Q2208.0,1554.5 2193.0,1554.5 L2134.0,1554.5 Q2119.0,1554.5 2119.0,1539.5 Z" fill="#a3a3a3" fill-opacity="1.0" filter="url(#b35)"/></g>
<g><path d="M2240.5,1535.0 Q2240.5,1521.0 2254.5,1521.0 L2319.0,1514.0 Q2333.0,1514.0 2333.0,1528.0 L2332.0,1538.0 Q2332.0,1553.0 2317.0,1553.0 L2256.5,1553.0 Q2241.5,1553.0 2241.5,1538.0 Z" fill="#9a9a9a" fill-opacity="1.0" filter="url(#b35)"/></g>
</svg>
</body></html>
